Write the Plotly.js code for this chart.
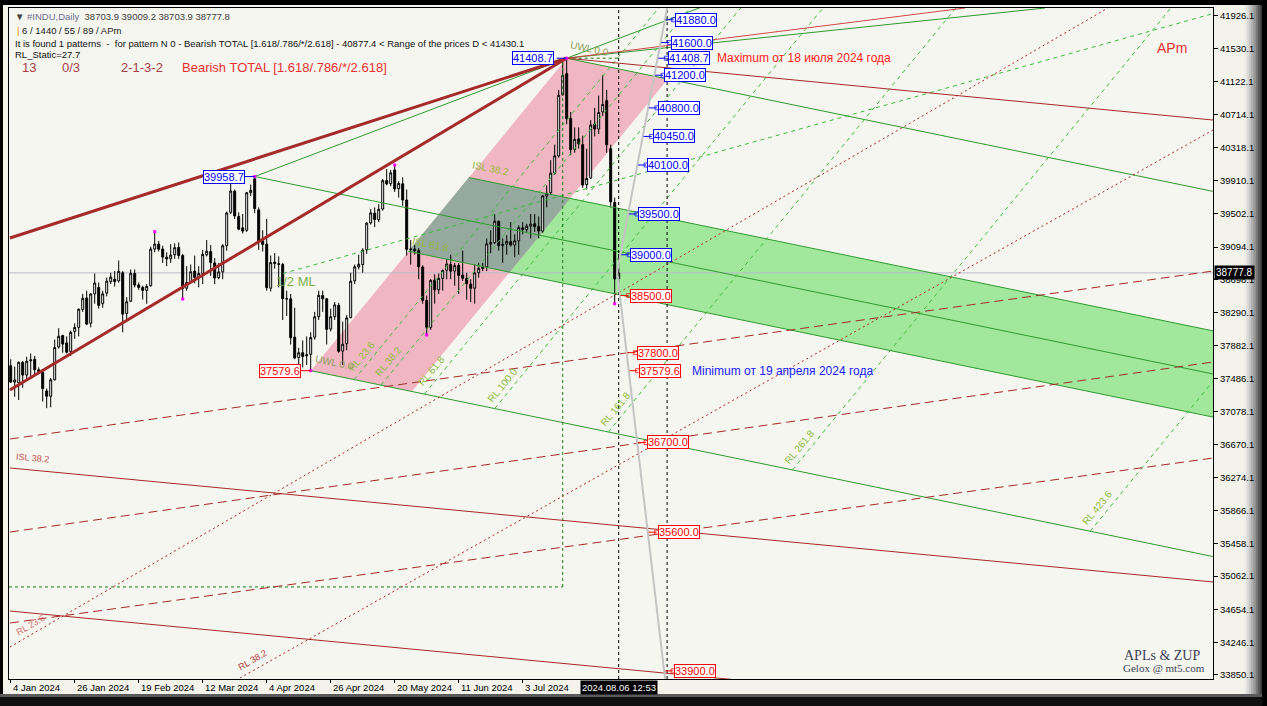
<!DOCTYPE html>
<html><head><meta charset="utf-8">
<script src="https://cdn.plot.ly/plotly-3.0.1.min.js"></script>
<style>
html,body{margin:0;padding:0;background:#000;overflow:hidden}
#chart{width:1267px;height:706px}
</style></head>
<body><div id="chart"></div>
<script>
// ---------------- DATA ----------------
const openP=[37640,37440,37430,37680,37525,37700,37720,37590,37560,37330,
37266,37468,37870,38010,37920,37810,38060,38110,38330,38470,
38160,38520,38600,38400,38530,38670,38700,38680,38780,38280,
38430,38770,38630,38600,38563,38620,39070,39130,39070,38970,
38950,39000,39090,38990,38590,38670,38800,38720,38770,39000,
39040,38900,38720,38790,39110,39520,39780,39470,39330,39300,
39760,39930,39550,39170,39130,38590,38910,38890,38880,38460,
38460,37990,37740,37800,37760,37780,37990,38240,38500,38460,
38090,38240,38380,37820,37910,38230,38680,38850,38880,39060,
39390,39510,39430,39560,39910,39870,40040,39810,39870,39670,
39065,39070,39050,38850,38440,38110,38690,38570,38710,38810,
38880,38800,38870,38750,38710,38640,38590,38780,38830,38850,
39130,39150,39410,39110,39130,39160,39120,39170,39330,39310,
39350,39380,39345,39290,39720,39760,40000,40210,40960,41220,
40670,40290,40420,40350,39860,39940,40600,40540,40750,40890,
40300,39640,38703.9];
const highP=[37720,37630,37690,37700,37750,37790,37760,37620,37600,37360,
37490,37960,38100,38020,38000,38070,38160,38340,38520,38560,
38530,38770,38660,38560,38720,38780,38800,38930,38800,38480,
38820,38820,38660,38620,38640,39100,39283,39170,39110,39030,
39130,39140,39150,39010,38860,38880,38990,38860,39060,39180,
39120,38960,38900,39130,39530,39890,39800,39520,39500,39770,
39860,39958.7,39580,39300,39440,38990,39020,38980,38900,38560,
38520,38350,37860,37950,38000,38050,38300,38560,38560,38470,
38340,38420,38410,38180,38260,38780,38880,39000,39080,39400,
39560,39580,39620,39930,40050,40040,40100,39900,39950,39800,
39180,39120,39080,38870,38500,38700,38760,38770,38820,38950,
39000,38900,38900,39050,38780,38700,38880,38900,38900,39200,
39300,39500,39420,39200,39240,39400,39250,39360,39400,39380,
39500,39500,39470,39730,39850,40160,40350,41020,41380,41408.7,
40750,40560,40560,40460,40300,40650,40800,40950,41200,41020,
40350,39700,39009.2];
const lowP=[37430,37260,37220,37370,37470,37480,37540,37540,37200,37120,
37130,37460,37850,37800,37790,37760,37970,38000,38300,38140,
38110,38400,38340,38350,38490,38640,38610,38660,38050,38200,
38420,38600,38570,38450,38400,38610,39030,39040,38900,38860,
38900,38950,38950,38458,38560,38650,38650,38600,38640,38980,
38740,38640,38700,38700,39050,39500,39440,39300,39260,39280,
39720,39510,39060,39040,38560,38550,38830,38600,38200,38250,
37900,37720,37620,37620,37650,37579.6,37960,38200,38300,37900,
38060,38200,37800,37650,37830,38220,38640,38820,38780,39010,
39370,39340,39400,39540,39850,39840,39770,39700,39600,38990,
38880,39000,38700,38400,38017,38080,38400,38520,38560,38700,
38700,38620,38520,38680,38450,38420,38400,38720,38800,38800,
39020,39130,39050,38900,39000,39100,38970,39000,39250,39280,
39200,39280,39200,39270,39580,39740,39980,40190,40950,40600,
40220,40250,40300,39820,39800,39930,40450,40480,40700,40250,
39580,38384,38703.9];
const closeP=[37440,37466,37683,37525,37695,37711,37592,37570,37361,37266,
37468,37863,38001,37905,37806,38049,38109,38333,38467,38150,
38519,38654,38380,38521,38677,38726,38671,38797,38272,38424,
38773,38628,38600,38563,38612,39069,39131,39069,38972,38949,
38996,39087,38990,38585,38661,38791,38723,38770,39005,39043,
38906,38715,38790,39110,39512,39781,39476,39314,39290,39760,
39790,39567,39170,39127,38597,38904,38892,38883,38462,38459,
37983,37735,37799,37753,37775,37986,38240,38503,38461,38086,
38240,38386,37816,37903,38226,38676,38852,38884,39056,39388,
39513,39432,39558,39908,39869,40004,39807,39873,39671,39065,
39070,39050,38853,38442,38112,38686,38571,38711,38807,38886,
38799,38868,38747,38712,38647,38589,38778,38834,38850,39134,
39150,39411,39112,39127,39164,39119,39170,39332,39308,39350,
39376,39345,39292,39721,39754,40001,40212,40954,41198,40665,
40288,40415,40358,39854,39935,40590,40540,40743,40843,40348,
39650,38703,38777.8];

const tickIdx=[0,16,32,48,64,80,96,112,128];
const tickLabels=["4 Jan 2024","26 Jan 2024","19 Feb 2024","12 Mar 2024","4 Apr 2024","26 Apr 2024","20 May 2024","11 Jun 2024","3 Jul 2024"];
const cursorIdx=152, cursorLabel="2024.08.06 12:53";
const yTickVals=[41926.1,41530.1,41122.1,40714.1,40318.1,39910.1,39502.1,39094.1,38698.1,38290.1,37882.1,37486.1,37078.1,36670.1,36274.1,35866.1,35458.1,35062.1,34654.1,34246.1,33850.1];
const yRange=[33801,42024], xRange=[-0.425,300.575];

// pitchfork pivots: B (high), C (low), A (max)
const pivotIdx=[61,75,139];
const pivotPrice=[39958.7,37579.6,41408.7];
const islLevels=[0.382,0.618];
const rlLevels=[0.236,0.382,0.618,1,1.618,2.618,4.236];
const rlNames=["RL 23.6","RL 38.2","RL 61.8","RL 100.0","RL 161.8","RL 261.8","RL 423.6"];
const pinkWidth=0.55;

const zigIdx=[36,43,61,75,96,104,139,151];
const zigPrice=[39283,38458,39958.7,37579.6,40100,38017,41408.7,38400];

// other tool lines [idx0, price0, idx1, price1]
const redThick=[[-0.2,39205,139,41408.7],[-0.2,37342,139,41408.7]];
const redSolid=[[139,41408.7,300.6,40651],[-0.2,36387,300.6,34990],[-0.2,34634,300.6,33237]];
const redFanUp=[[139,41408.7,238.6,42024]];
const greenFanUp=[[139,41408.7,258.6,42024]];
const redDashed=[[-0.2,36742,300.6,38801],[-0.2,35602,300.6,37686],[-0.2,34487,300.6,36509]];
const redDotted=[[-0.2,34193,274.3,42024],[57.3,33813,300.6,40529]];
const halfMLSlope=13.7;

const silverIdx=[164.1,151.6,163.6];
const silverPrice=[42024,38789,33801];
const blueLevels=[41880,41600,41408.7,41200,40800,40450,40100,39500,39000];
const redLevels=[38500,37800,37579.6,36700,35600,33900];
const currentPrice=38777.8;
const vLines=[152,164.1];
const greenBoxIdx=138, greenBoxPrice=34929;

// ---------------- GEOMETRY HELPERS ----------------
const B={i:pivotIdx[0],p:pivotPrice[0]}, C={i:pivotIdx[1],p:pivotPrice[1]}, A={i:pivotIdx[2],p:pivotPrice[2]};
const M={i:(C.i+A.i)/2,p:(C.p+A.p)/2};
const s=(M.p-B.p)/(M.i-B.i);
const r=(A.p-C.p)/(A.i-C.i);
const V={i:M.i-B.i,p:M.p-B.p};
const W=(A.p-s*A.i)-(C.p-s*C.i);
const xEnd=xRange[1]+0.3;
const tineA=i=>A.p+s*(i-A.i);
const isl=(f,i)=>tineA(i)-f*W;
function islRl(f,k){
  const S={i:C.i+k*V.i,p:C.p+k*V.p};
  const i=(S.p-r*S.i-A.p+s*A.i+f*W)/(s-r);
  return {i:i,p:S.p+r*(i-S.i)};
}
function segs(list){const x=[],y=[];list.forEach(l=>{x.push(l[0],l[2],null);y.push(l[1],l[3],null);});return {x,y};}
function lineTrace(list,color,width,dash){const g=segs(list);return {type:'scatter',mode:'lines',x:g.x,y:g.y,line:{color:color,width:width,dash:dash||'solid'},hoverinfo:'skip'};}
const shapes=[];
function polyShape(pts,color){shapes.push({type:'path',xref:'x',yref:'y',layer:'below',path:'M'+pts.map(q=>q.i+','+q.p).join(' L')+' Z',fillcolor:color,line:{width:0}});}
function silverAt(p){
  for(let k=0;k<silverPrice.length-1;k++){
    const p0=silverPrice[k],p1=silverPrice[k+1];
    if((p<=p0&&p>=p1)||(p>=p0&&p<=p1)){const t=(p-p0)/(p1-p0);return silverIdx[k]+t*(silverIdx[k+1]-silverIdx[k]);}
  }
  return silverIdx[1];
}

const traces=[];
const g0=islRl(islLevels[0],0), g1=islRl(islLevels[1],0);
polyShape([g0,{i:xEnd,p:isl(islLevels[0],xEnd)},{i:xEnd,p:isl(islLevels[1],xEnd)},g1],'#a2e89c');
polyShape([C,A,{i:A.i+pinkWidth*V.i,p:A.p+pinkWidth*V.p},{i:C.i+pinkWidth*V.i,p:C.p+pinkWidth*V.p}],'#f0b7c2');
polyShape([g0,islRl(islLevels[0],pinkWidth),islRl(islLevels[1],pinkWidth),g1],'#95a99f');
shapes.push({type:'line',xref:'x',yref:'y',layer:'below',x0:xRange[0],x1:xEnd,y0:currentPrice,y1:currentPrice,line:{color:'#b9b9cc',width:1}});
traces.push({type:'candlestick',x:closeP.map((_,i)=>i),open:openP,high:highP,low:lowP,close:closeP,
  increasing:{line:{color:'#000',width:1},fillcolor:'#ffffff'},
  decreasing:{line:{color:'#000',width:1},fillcolor:'#000000'},whiskerwidth:0,hoverinfo:'skip'});
const gLines=[[A.i,A.p,xEnd,tineA(xEnd)],[B.i,B.p,xEnd,B.p+s*(xEnd-B.i)],[C.i,C.p,xEnd,C.p+s*(xEnd-C.i)],
 [g0.i,g0.p,xEnd,isl(islLevels[0],xEnd)],[g1.i,g1.p,xEnd,isl(islLevels[1],xEnd)],
 [B.i,B.p,B.i+1.6*(A.i-B.i),B.p+1.6*(A.p-B.p)]].concat(greenFanUp);
traces.push(lineTrace(gLines,'#2f9a2f',1));
const rl=rlLevels.map(k=>{const S={i:C.i+k*V.i,p:C.p+k*V.p};return [S.i,S.p,S.i+3*(A.i-C.i),S.p+3*(A.p-C.p)];});
traces.push(lineTrace(rl,'#3dbb3d',1,'4px,4px'));
const mBC={i:(B.i+C.i)/2,p:(B.p+C.p)/2};
traces.push(lineTrace([[mBC.i,mBC.p,xEnd,mBC.p+halfMLSlope*(xEnd-mBC.i)]],'#3dbb3d',1,'4px,4px'));
traces.push(lineTrace([[xRange[0],greenBoxPrice,greenBoxIdx,greenBoxPrice],[greenBoxIdx,greenBoxPrice,greenBoxIdx,A.p],[A.i,A.p,cursorIdx,A.p]],'#1e7a1e',1,'3px,3px'));
traces.push(lineTrace(redSolid,'#a52a2a',1));
traces.push(lineTrace(redFanUp,'#d04848',1));
traces.push(lineTrace(redDashed,'#a52a2a',1,'9px,5px'));
traces.push(lineTrace(redDotted,'#b22222',1,'2px,3px'));
traces.push(lineTrace(redThick,'#a52a2a',3));
traces.push(lineTrace(vLines.map(v=>[v,yRange[0],v,yRange[1]]),'#000',1,'3px,3px'));
traces.push({type:'scatter',mode:'lines',x:silverIdx,y:silverPrice,line:{color:'#c4c4c4',width:2},hoverinfo:'skip'});
traces.push({type:'scatter',mode:'markers',x:zigIdx,y:zigPrice,marker:{symbol:'square',size:3,color:'#ff00ff'},hoverinfo:'skip'});

const annotations=[];
const labFont=(c)=>({family:'Liberation Sans, Arial',size:11,color:c});
function levelLabel(p,col){
  const si=silverAt(p), li=si+2.5;
  traces.push({type:'scatter',mode:'lines+markers',x:[si+0.2,li-0.3],y:[p,p],line:{color:col,width:1},marker:{symbol:'square-open',size:[0,4],color:col},hoverinfo:'skip'});
  annotations.push({x:li,y:p,xref:'x',yref:'y',text:(p).toFixed(1),showarrow:false,xanchor:'left',yanchor:'middle',font:labFont(col),bgcolor:'#ffffff',bordercolor:col,borderwidth:1,borderpad:0});
  return li;
}
blueLevels.forEach(p=>{const li=levelLabel(p,'#0000ff');
  if(p===A.p) annotations.push({x:li,y:p,text:'Maximum от 18 июля 2024 года',showarrow:false,xanchor:'left',yanchor:'middle',xshift:47,font:{family:'Liberation Sans, Arial',size:12,color:'#ff2020'}});});
redLevels.forEach(p=>{const li=levelLabel(p,'#ff0000');
  if(p===C.p) annotations.push({x:li,y:p,text:'Minimum от 19 апреля 2024 года',showarrow:false,xanchor:'left',yanchor:'middle',xshift:51,font:{family:'Liberation Sans, Arial',size:12,color:'#2020ff'}});});
[[B,'#0000ff',-10],[A,'#0000ff',-13],[C,'#ff0000',-10]].forEach(q=>{
  const P=q[0];
  traces.push({type:'scatter',mode:'lines',x:[P.i-2.5,P.i],y:[P.p,P.p],line:{color:q[1],width:1},hoverinfo:'skip'});
  annotations.push({x:P.i,y:P.p,text:P.p.toFixed(1),showarrow:false,xanchor:'right',yanchor:'middle',xshift:q[2],font:labFont(q[1]),bgcolor:'#ffffff',bordercolor:q[1],borderwidth:1,borderpad:0});
});
rlLevels.forEach((k,n)=>{
  annotations.push({x:C.i+k*V.i+0.056*(A.i-C.i),y:C.p+k*V.p+0.056*(A.p-C.p),text:rlNames[n],showarrow:false,textangle:-50.6,xshift:-7,yshift:6,font:{family:'Liberation Sans, Arial',size:10,color:'#8dbb3c'}});
});
const angS=Math.atan(0.206)*180/Math.PI;
annotations.push({x:g0.i,y:g0.p,text:'ISL 38.2',showarrow:false,textangle:angS,xshift:22,yshift:9,font:{family:'Liberation Sans, Arial',size:10,color:'#9ab83a'}});
annotations.push({x:g1.i,y:g1.p,text:'ISL 61.8',showarrow:false,textangle:angS,xshift:22,yshift:7,font:{family:'Liberation Sans, Arial',size:10,color:'#9ab83a'}});
annotations.push({x:A.i,y:A.p,text:'UWL 0.0',showarrow:false,textangle:angS,xanchor:'left',xshift:0,yshift:10,font:{family:'Liberation Sans, Arial',size:10,color:'#8d9e5c'}});
annotations.push({x:C.i,y:C.p,text:'UWL 0.0',showarrow:false,textangle:angS,xanchor:'left',xshift:1,yshift:8,font:{family:'Liberation Sans, Arial',size:10,color:'#8d9e5c'}});
annotations.push({x:mBC.i,y:mBC.p,text:'1/2 ML',showarrow:false,xanchor:'left',yanchor:'middle',xshift:-9,yshift:-8,font:{family:'Liberation Sans, Arial',size:13,color:'#7db04a'}});
annotations.push({x:redSolid[1][0],y:redSolid[1][1],text:'ISL 38.2',showarrow:false,xanchor:'left',xshift:4,yshift:10,textangle:5,font:{family:'Liberation Sans, Arial',size:9,color:'#c05050'}});
annotations.push({x:redDotted[0][0],y:redDotted[0][1],text:'RL 23.6',showarrow:false,xanchor:'left',xshift:2,yshift:22,textangle:-30,font:{family:'Liberation Sans, Arial',size:9,color:'#d07070'}});
annotations.push({x:redDotted[1][0],y:redDotted[1][1],text:'RL 38.2',showarrow:false,xanchor:'left',xshift:-6,yshift:18,textangle:-30,font:{family:'Liberation Sans, Arial',size:9,color:'#b04040'}});

const PL=9,PR=1213,PT=8,PB=679;
const px=x=>(x-PL)/(PR-PL), py=y=>(PB-y)/(PB-PT);
function T(text,x,y,font,extra){annotations.push(Object.assign({xref:'paper',yref:'paper',x:px(x),y:py(y),text:text,showarrow:false,xanchor:'left',yanchor:'middle',font:font},extra||{}));}
const hf=(c,sz)=>({family:'Liberation Sans, Arial',size:sz||9.5,color:c});
T('▼ <span style="color:#707090">#INDU,Daily</span>  38703.9 39009.2 38703.9 38777.8',13,17,hf('#404040'));
T('<span style="color:#e0a000">|</span> 6 / 1440 / 55 / 89 / APm',15,30,hf('#202020'));
T('It is found 1 patterns  -  for pattern N 0 - Bearish TOTAL [1.618/.786/*/2.618] - 40877.4 &lt; Range of the prices D &lt; 41430.1',13,43,hf('#101010'));
T('RL_Static=27.7',13,55,hf('#101010'));
T('13',20,68,hf('#a83c48',13));
T('0/3',60,68,hf('#a83c48',13));
T('2-1-3-2',119,68,hf('#a83c48',13));
T('Bearish TOTAL [1.618/.786/*/2.618]',180,68,hf('#e83030',13));
T('APm',1155,48,hf('#e03030',14));
T('APLs &amp; ZUP',1202,655,{family:'Liberation Serif, serif',size:14,color:'#3a4256'},{xanchor:'right'});
T('Gelox @ mt5.com',1207,668,{family:'Liberation Serif, serif',size:11,color:'#3a4256'},{xanchor:'right'});
tickIdx.forEach((t,n)=>annotations.push({x:t,y:0,xref:'x',yref:'paper',text:tickLabels[n],showarrow:false,xanchor:'left',yanchor:'top',xshift:0,yshift:-1,font:{family:'Liberation Sans, Arial',size:9.5,color:'#000'}}));
annotations.push({x:cursorIdx,y:0,xref:'x',yref:'paper',text:cursorLabel,showarrow:false,xanchor:'center',yanchor:'top',yshift:-1,bgcolor:'#000',borderpad:1,font:{family:'Liberation Sans, Arial',size:9.5,color:'#fff'}});
annotations.push({x:1,y:currentPrice,xref:'paper',yref:'y',text:'38777.8',showarrow:false,xanchor:'left',yanchor:'middle',xshift:1,bgcolor:'#000',borderpad:1,font:{family:'Liberation Sans, Arial',size:10,color:'#fff'}});

function R(x0,y0,x1,y1,c,layer){shapes.push({type:'rect',xref:'paper',yref:'paper',x0:px(x0),x1:px(x1),y0:py(y1),y1:py(y0),fillcolor:c,line:{width:0},layer:layer||'above'});}
const grad=['#ecece8','#dcdcda','#c8c8c8','#b0b0b0','#969696','#7a7a7a','#5a5a5a','#383838'];
grad.forEach((c,n)=>R(1244+n*2.3,5,1244+(n+1)*2.3+0.3,694,c,'below'));
R(0,0,3,706,'#000');R(0,0,1267,5,'#000');R(0,697,1267,706,'#101010');R(0,694,1267,697,'#5a5a5a');
R(1262,0,1267,706,'#000');

const layout={width:1267,height:706,margin:{l:PL,r:1267-PR,t:PT,b:706-PB},
  paper_bgcolor:'#f3f3ec',plot_bgcolor:'#f6f6f0',showlegend:false,hovermode:false,dragmode:false,
  xaxis:{type:'linear',range:xRange,showgrid:false,zeroline:false,showline:true,linecolor:'#000',linewidth:1,mirror:true,
    tickvals:tickIdx,ticks:'outside',ticklen:3,tickcolor:'#000',showticklabels:false,rangeslider:{visible:false},fixedrange:true},
  yaxis:{side:'right',range:yRange,showgrid:false,zeroline:false,showline:true,linecolor:'#000',linewidth:1,mirror:true,
    tickvals:yTickVals,ticktext:yTickVals.map(v=>v.toFixed(1)),ticks:'outside',ticklen:4,tickcolor:'#000',
    tickfont:{family:'Liberation Sans, Arial',size:9.5,color:'#000'},fixedrange:true},
  annotations:annotations,shapes:shapes};
Plotly.newPlot('chart',traces,layout,{staticPlot:true,displayModeBar:false});
</script></body></html>
